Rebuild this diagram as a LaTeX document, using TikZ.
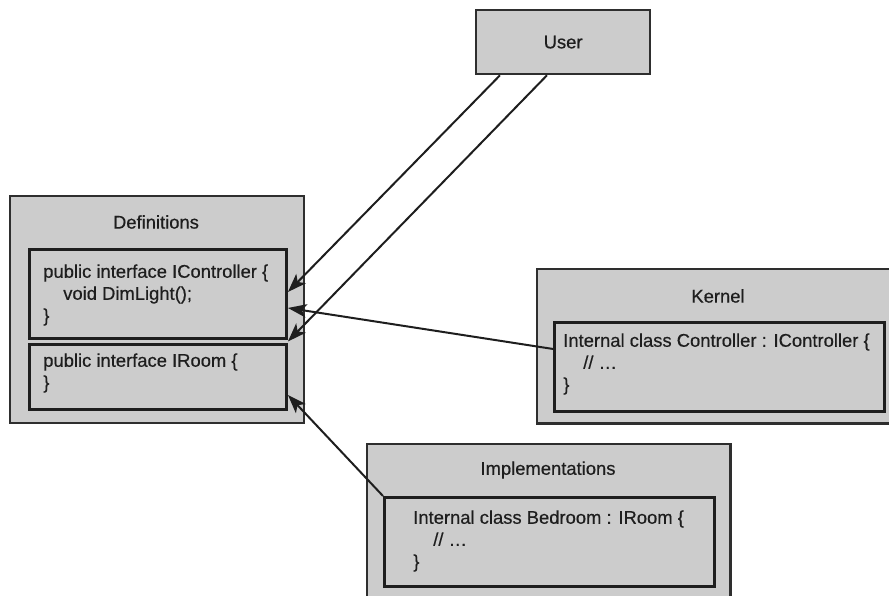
\documentclass[tikz,border=0pt]{standalone}
\usepackage{fontspec}
\setmainfont[FakeBold=0.5]{Liberation Sans}
\usetikzlibrary{arrows.meta,calc}
\definecolor{boxfill}{HTML}{CCCCCC}
\definecolor{ink}{HTML}{1E1E1E}
\definecolor{edge}{HTML}{2E2E2E}
\begin{document}
\begin{tikzpicture}[x=0.75pt,y=-0.75pt,
  font=\fontsize{13.8pt}{16.5pt}\selectfont,
  outerbox/.style={fill=boxfill,draw=edge,line width=1.7pt,inner sep=0pt,anchor=north west},
  fillonly/.style={fill=boxfill,inner sep=0pt,anchor=north west},
  innerbox/.style={draw=ink,line width=2.2pt,inner sep=0pt,anchor=north west},
  title/.style={text=ink,inner sep=0pt},
  code/.style={text=ink,inner sep=0pt,align=left,anchor=west},
  conn/.style={draw=ink,line width=1.5pt,-{Stealth[length=14pt,width=10pt,inset=3.5pt]}}
]
\useasboundingbox (0,0) rectangle (889,596);
% User
\node[outerbox,minimum width=174*0.75pt,minimum height=64*0.75pt] (user) at (475,9) {};
\node[title] (usert) at (user.center) {User};
% Definitions
\node[outerbox,minimum width=294*0.75pt,minimum height=227*0.75pt] (defs) at (9,195) {};
\node[title] (defst) at (156,222) {Definitions};
\node[innerbox,minimum width=257*0.75pt,minimum height=89*0.75pt] (defsA) at (28,248) {};
\node[innerbox,minimum width=257*0.75pt,minimum height=65*0.75pt] (defsB) at (28,343) {};
\node[code] (defsAt) at (43,295) {public interface IController \{\\\hspace*{15pt}void DimLight();\\\}};
\node[code] (defsBt) at (43,373) {public interface IRoom \{\\\}};
% Kernel
\node[fillonly,minimum width=352*0.75pt,minimum height=154*0.75pt] (kernel) at (537,269) {};
\draw[edge,line width=1.7pt] (kernel.north east) -- (kernel.north west) -- (kernel.south west) -- (kernel.south east);
\node[title] (kernelt) at (718,296) {Kernel};
\node[innerbox,minimum width=330*0.75pt,minimum height=89*0.75pt] (kernelA) at (553,321) {};
\node[code] (kernelAt) at (563,364) {Internal class Controller : IController \{\\\hspace*{15pt}// \ldots\\\}};
% Implementations
\node[fillonly,minimum width=363*0.75pt,minimum height=152*0.75pt] (impl) at (367,444) {};
\draw[edge,line width=1.7pt] (impl.south west) -- (impl.north west) -- (impl.north east) -- (impl.south east);
\node[title] (implt) at (548,470) {Implementations};
\node[innerbox,minimum width=330*0.75pt,minimum height=89*0.75pt] (implA) at (383,496) {};
\node[code] (implAt) at (413,541) {Internal class Bedroom : IRoom \{\\\hspace*{15pt}// \ldots\\\}};
% connectors
\draw[conn] ([xshift=25*0.75pt]user.south west) -- ([yshift=2*0.75pt]defsA.east);
\draw[conn] ([xshift=72*0.75pt]user.south west) -- ($(defsA.south east)!0.5!(defsB.north east)$);
\draw[conn] ([yshift=18*0.75pt]kernelA.west) -- ([yshift=-14*0.75pt]defsA.east);
\draw[conn] (implA.north west) -- ([yshift=-18*0.75pt]defsB.east);
\end{tikzpicture}
\end{document}
